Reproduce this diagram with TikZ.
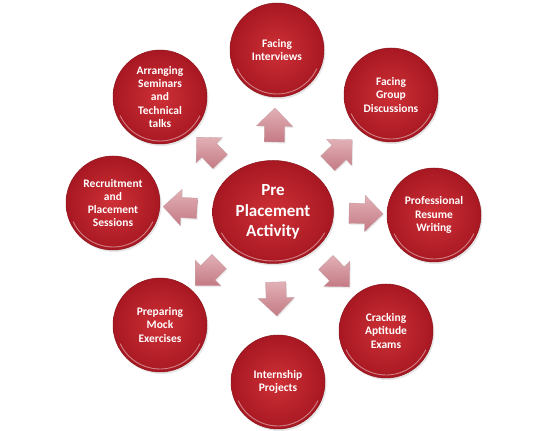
\documentclass[tikz,border=0pt]{standalone}
\usepackage{fontspec}
\setmainfont{Carlito}
\usetikzlibrary{shapes.geometric,shapes.arrows,shadows,calc}

\definecolor{redIn}{RGB}{206,48,54}
\definecolor{redOut}{RGB}{168,24,34}
\definecolor{redRim}{RGB}{140,20,28}
\definecolor{arrLight}{RGB}{226,176,182}
\definecolor{arrDark}{RGB}{196,122,132}

\tikzset{
  bubble/.style={circle, minimum size=94pt, inner sep=0pt, align=center,
    text=white, font=\bfseries\fontsize{11.5}{13.3}\selectfont,
    shading=radial, inner color=redIn, outer color=redOut,
    draw=redRim, line width=.5pt,
    drop shadow={opacity=.2, shadow xshift=1.5pt, shadow yshift=-2pt}},
  hub/.style={bubble, ellipse, minimum width=121pt, minimum height=103pt,
    font=\bfseries\fontsize{17}{20.5}\selectfont},
  pointer/.style={single arrow, minimum height=34pt, inner xsep=0pt, inner ysep=10pt,
    single arrow head extend=8pt, single arrow tip angle=90,
    top color=arrLight, bottom color=arrDark, draw=arrDark!80!black!60, line width=.3pt,
    drop shadow={opacity=.15, shadow xshift=1pt, shadow yshift=-1.5pt}},
  rim/.style={white, opacity=.45, line width=.9pt}
}

\begin{document}
\begin{tikzpicture}[x=1pt,y=1pt]
  \useasboundingbox (0,0) rectangle (549,431);

  \node[hub] (pre) at (273,219) {Pre\\Placement\\Activity};

  \node[bubble] (interv)   at (277,381) {Facing\\Interviews};
  \node[bubble] (group)    at (391,336) {Facing\\Group\\Discussions};
  \node[bubble] (resume)   at (434,216) {Professional\\Resume\\Writing};
  \node[bubble] (aptitude) at (386,100) {Cracking\\Aptitude\\Exams};
  \node[bubble] (intern)   at (278,49)  {Internship\\Projects};
  \node[bubble] (mock)     at (160,106) {Preparing\\Mock\\Exercises};
  \node[bubble] (recruit)  at (113,228) {Recruitment\\and\\Placement\\Sessions};
  \node[bubble] (seminar)  at (160,334) {Arranging\\Seminars\\and\\Technical\\talks};

  % light rim along the lower edge of every disc
  \foreach \n in {interv,group,resume,aptitude,intern,mock,recruit,seminar} {
    \draw[rim] (\n.center) ++(205:44pt) arc (205:335:44pt);
  }
  \draw[rim] (pre.center) ++(205:57pt and 49pt) arc (205:335:57pt and 49pt);

  \foreach \n/\a in {interv/89,group/44,resume/-1,aptitude/-46,
                     intern/-88,mock/-135,recruit/177,seminar/134} {
    \node[pointer, rotate=\a] (arr-\n) at ($(pre)+(\a:88pt and 82pt)$) {};
  }
\end{tikzpicture}
\end{document}
